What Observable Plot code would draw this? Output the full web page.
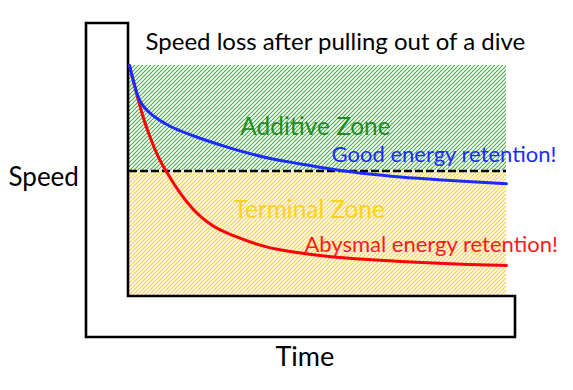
<!DOCTYPE html>
<html>
<head>
<meta charset="utf-8">
<script src="https://cdn.jsdelivr.net/npm/d3@7"></script>
<script src="https://cdn.jsdelivr.net/npm/@observablehq/plot@0.6"></script>
<style>
  html, body { margin: 0; padding: 0; background: #fff; }
  #chart svg { display: block; }
</style>
</head>
<body>
<svg width="0" height="0" style="position:absolute">
  <defs>
    <pattern id="hatch-green" patternUnits="userSpaceOnUse" width="4" height="4">
      <rect width="4" height="4" fill="#ffffff"/>
      <path d="M-1,1 l2,-2 M0,4 l4,-4 M3,5 l2,-2" stroke="#45aa45" stroke-width="1.05"/>
    </pattern>
    <pattern id="hatch-yellow" patternUnits="userSpaceOnUse" width="4" height="4">
      <rect width="4" height="4" fill="#ffffff"/>
      <path d="M-1,1 l2,-2 M0,4 l4,-4 M3,5 l2,-2" stroke="#ffd21a" stroke-width="1.1"/>
    </pattern>
  </defs>
</svg>
<div id="chart"></div>
<script>
// Time (0–100, arbitrary units) and speed (0–100, arbitrary units)
const goodT = [0, 0.8, 1.6, 2.4, 3.2, 4.2, 5.6, 7.7, 10.9, 16.7, 25.5, 36.1, 45.4, 56.0, 71.9, 85.1, 100];
const goodV = [100, 94.8, 90.0, 86.1, 83.5, 81.4, 79.2, 76.6, 73.6, 69.7, 64.9, 60.2, 57.4, 54.5, 51.7, 50.2, 48.8];

const badT = [0, 1.6, 3.4, 5.6, 7.7, 10.1, 13.5, 16.7, 22.0, 28.1, 36.1, 45.4, 54.1, 63.1, 71.9, 80.6, 89.7, 100];
const badV = [100, 89.6, 78.8, 68.4, 60.2, 53.2, 44.6, 38.1, 30.7, 26.0, 21.6, 18.8, 17.1, 16.0, 15.2, 14.5, 13.9, 13.4];

const threshold = 54.3;
const zoneNames = ["Additive Zone", "Terminal Zone"];
const zoneLo = [threshold, 0];
const zoneHi = [100, threshold];

const labelText = ["Additive Zone", "Good energy retention!", "Terminal Zone", "Abysmal energy retention!"];
const labelT = [29.4, 53.6, 27.6, 46.4];
const labelV = [73.2, 61.3, 37.2, 22.3];

const titleText = "Speed loss after pulling out of a dive";
const yTitle = "Speed";
const xTitle = "Time";

const good = goodT.map((t, i) => ({t, v: goodV[i]}));
const bad = badT.map((t, i) => ({t, v: badV[i]}));
const zones = zoneNames.map((name, i) => ({name, lo: zoneLo[i], hi: zoneHi[i]}));
const labels = labelText.map((text, i) => ({text, t: labelT[i], v: labelV[i]}));

const font = "Lato, 'Open Sans', sans-serif";

// L-shaped slide frame drawn from the scales
function slideFrame(index, scales, values, dimensions) {
  const x0 = scales.x(0), x1 = scales.x(100);
  const y0 = scales.y(0), y1 = scales.y(100);
  const outerL = x0 - 43, top = y1 - 42, bottom = y0 + 41, right = x1 + 9;
  const g = d3.create("svg:g");
  g.append("path")
    .attr("d", `M${outerL},${top} H${x0 - 1} V${y0} H${right} V${bottom} H${outerL} Z`)
    .attr("fill", "none")
    .attr("stroke", "#000")
    .attr("stroke-width", 2.6)
    .attr("stroke-linejoin", "miter");
  return g.node();
}

const colorOf = {
  "Additive Zone": "#1e8c1e",
  "Good energy retention!": "#1a2cff",
  "Terminal Zone": "#ffd21a",
  "Abysmal energy retention!": "#ff1a1a"
};

const chart = Plot.plot({
  width: 573,
  height: 390,
  marginLeft: 129,
  marginRight: 67,
  marginTop: 65,
  marginBottom: 94,
  x: {domain: [0, 100], axis: null},
  y: {domain: [0, 100], axis: null},
  style: {fontFamily: font, background: "#fff", overflow: "visible"},
  marks: [
    Plot.rect(zones, {
      x1: 0, x2: 100, y1: "lo", y2: "hi",
      fill: (d) => d.name === "Additive Zone" ? "url(#hatch-green)" : "url(#hatch-yellow)"
    }),
    Plot.ruleY([threshold], {stroke: "#000", strokeWidth: 2.6, strokeDasharray: "8,3"}),
    slideFrame,
    Plot.line(bad, {x: "t", y: "v", stroke: "#ff0000", strokeWidth: 3, curve: "monotone-x"}),
    Plot.line(good, {x: "t", y: "v", stroke: "#1a2cff", strokeWidth: 3, curve: "monotone-x"}),
    Plot.text(labels.filter(d => d.text.endsWith("Zone")), {
      x: "t", y: "v", text: "text", textAnchor: "start",
      fill: (d) => colorOf[d.text], fontSize: 24.4
    }),
    Plot.text(labels.filter(d => !d.text.endsWith("Zone")), {
      x: "t", y: "v", text: "text", textAnchor: "start",
      fill: (d) => colorOf[d.text], fontSize: 22
    }),
    Plot.text([titleText], {x: 54.6, y: 110.2, textAnchor: "middle", fontSize: 24, fill: "#000"}),
    Plot.text([yTitle], {x: -32.1, y: 51.5, textAnchor: "start", fontSize: 26, fill: "#000"}),
    Plot.text([xTitle], {x: 38.7, y: -26.2, textAnchor: "start", fontSize: 27, fill: "#000"})
  ]
});

document.getElementById("chart").appendChild(chart);
</script>
</body>
</html>
